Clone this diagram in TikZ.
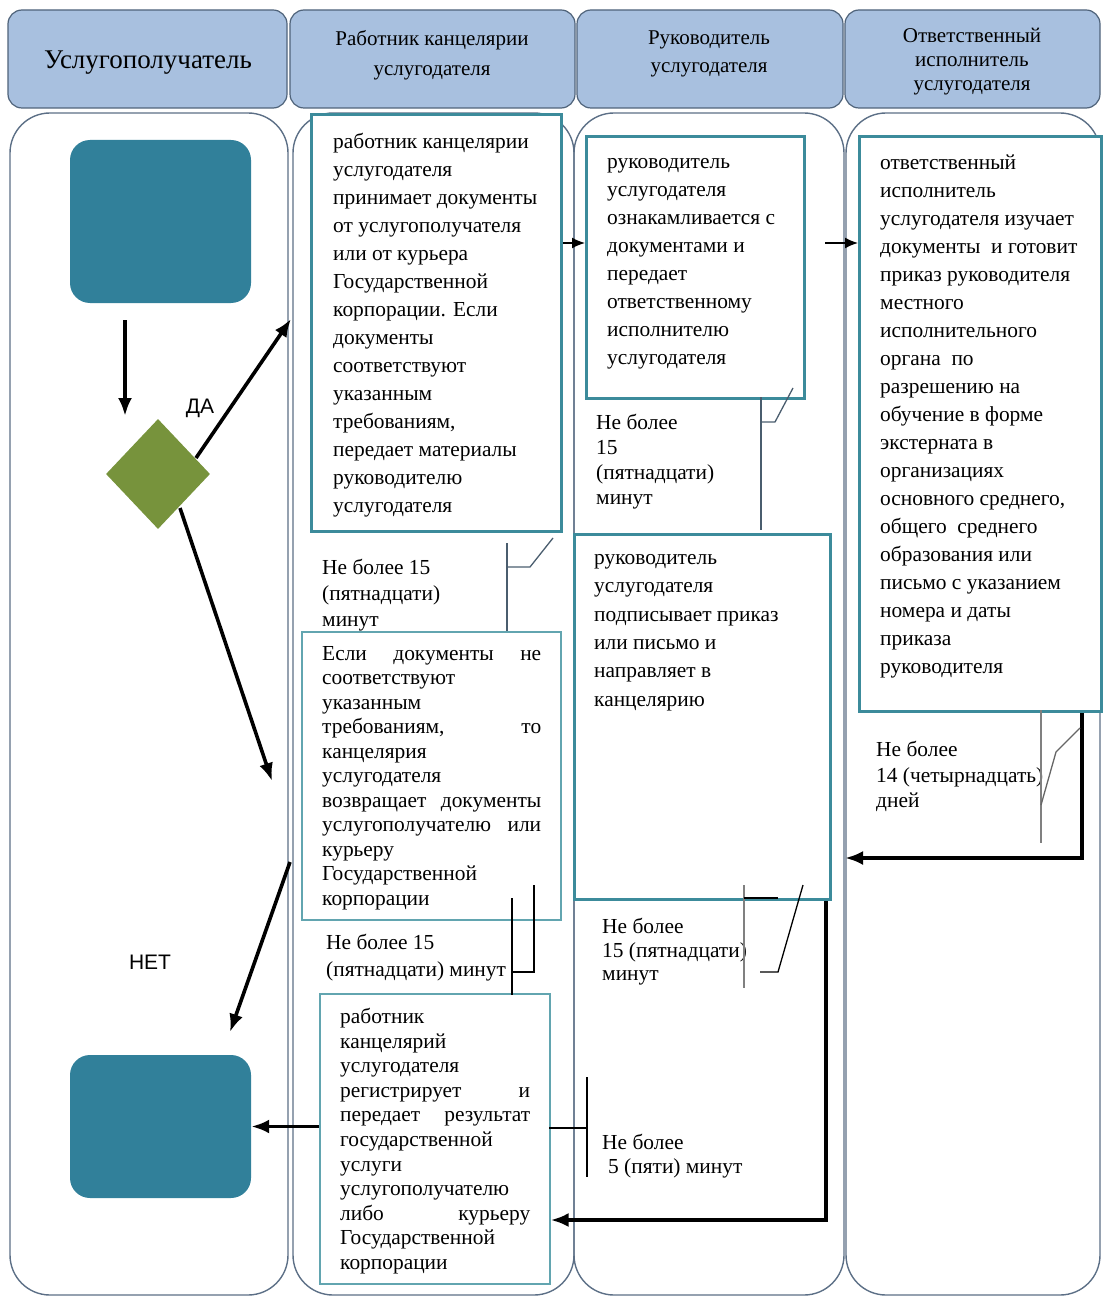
\documentclass[tikz,border=0pt]{standalone}
\usepackage{fontspec}
\setmainfont{Liberation Serif}
\newfontfamily\labelsans{Liberation Sans}
\usetikzlibrary{arrows.meta,shapes.geometric}

\definecolor{hdrfill}{HTML}{A8C0DF}
\definecolor{hdrdraw}{HTML}{4F637A}
\definecolor{lanedraw}{HTML}{5C6F86}
\definecolor{tealdraw}{HTML}{3C8B9B}
\definecolor{tealthin}{HTML}{62A5B0}
\definecolor{tealfill}{HTML}{31809A}
\definecolor{olivefill}{HTML}{77933C}
\definecolor{noteline}{HTML}{4A5D6E}

\begin{document}
\begin{tikzpicture}[x=1pt,y=-1pt,
  hdr/.style={draw=hdrdraw, line width=1.2pt, fill=hdrfill, rounded corners=14pt, inner sep=0pt},
  hdrtext/.style={inner sep=0pt, align=center, anchor=center},
  lane/.style={draw=lanedraw, line width=1.4pt, rounded corners=40pt},
  boxthick/.style={draw=tealdraw, line width=3pt, fill=white, inner sep=0pt, anchor=north west},
  boxthin/.style={draw=tealthin, line width=1.6pt, fill=white, inner sep=0pt, anchor=north west},
  term/.style={fill=tealfill, rounded corners=20pt, inner sep=0pt},
  txt/.style={anchor=north west, inner sep=0pt, align=left,
    font=\fontsize{21.4}{#1}\selectfont, execute at begin node=\strut},
  txt/.default=28,
  bigarrow/.style={line width=3.6pt, -{Latex[length=18pt,width=14pt]}},
  smallarrow/.style={line width=1.6pt, -{Latex[length=13pt,width=11pt]}},
  note/.style={draw=noteline, line width=1.3pt},
  notegray/.style={draw=gray, line width=1.3pt},
  notedark/.style={draw=black, line width=1.3pt}
]
\useasboundingbox (0,0) rectangle (1106,1297);

% swimlane bodies
\draw[lane] (10,113) rectangle (288,1295);
\draw[lane] (293,113) rectangle (574,1295);
\draw[lane] (574,113) rectangle (844,1295);
\draw[lane] (846,113) rectangle (1100,1295);

% swimlane headers
\node[hdr, minimum width=279pt, minimum height=98pt] (h1) at (147.5,59) {};
\node[hdr, minimum width=285pt, minimum height=98pt] (h2) at (432.5,59) {};
\node[hdr, minimum width=266pt, minimum height=98pt] (h3) at (710,59) {};
\node[hdr, minimum width=255pt, minimum height=98pt] (h4) at (972.5,59) {};
\node[hdrtext, font=\fontsize{27}{30}\selectfont] (h1t) at (148,63) {Услугополучатель};
\node[hdrtext, font=\fontsize{21}{30}\selectfont] (h2t) at (432,55) {Работник канцелярии\\услугодателя};
\node[hdrtext, font=\fontsize{21}{28}\selectfont] (h3t) at (709,54) {Руководитель\\услугодателя};
\node[hdrtext, font=\fontsize{21}{24}\selectfont] (h4t) at (972,62) {Ответственный\\исполнитель\\услугодателя};

% start / finish shapes and the decision
\node[term, minimum width=181pt, minimum height=163pt] (start) at (160.5,221.5) {};
\node[term, minimum width=181pt, minimum height=143pt] (finish) at (160.5,1126.5) {};
\node[diamond, fill=olivefill, inner sep=0pt, minimum width=104pt, minimum height=110pt]
  (dec) at (158,474) {};

% process boxes
\node[boxthick, minimum width=250pt, minimum height=417pt] (b1) at (310,113) {};
\node[boxthick, minimum width=218pt, minimum height=262pt] (b2) at (585,135) {};
\node[boxthick, minimum width=242pt, minimum height=575pt] (b3) at (858,135) {};
\node[boxthin,  minimum width=259pt, minimum height=288pt] (b4) at (301,631) {};
\node[boxthick, minimum width=256pt, minimum height=365pt] (b5) at (573,533) {};
\node[boxthin,  minimum width=230pt, minimum height=290pt] (b6) at (319,993) {};

% box texts
\node[txt] (t1) at (333,133) {работник канцелярии\\услугодателя\\принимает документы\\от услугополучателя\\или от курьера\\Государственной\\корпорации. Если\\документы\\соответствуют\\указанным\\требованиям,\\передает материалы\\руководителю\\услугодателя};
\node[txt] (t2) at (607,158) {руководитель\\услугодателя\\ознакамливается с\\документами и\\передает\\ответственному\\исполнителю\\услугодателя};
\node[txt] (t3) at (880,155) {ответственный\\исполнитель\\услугодателя изучает\\документы\ \ и готовит\\приказ руководителя\\местного\\исполнительного\\органа\ \ по\\разрешению на\\обучение в форме\\экстерната в\\организациях\\основного среднего,\\общего\ \ среднего\\образования или\\письмо с указанием\\номера и даты\\приказа\\руководителя};
\node[txt=28.4] (t5) at (594,554) {руководитель\\услугодателя\\подписывает приказ\\или письмо и\\направляет в\\канцелярию};
\node[txt=24.5] (t4) at (322,646) {\makebox[219pt][s]{Если документы не}\\соответствуют\\указанным\\\makebox[219pt][s]{требованиям, то}\\канцелярия\\услугодателя\\\makebox[219pt][s]{возвращает документы}\\\makebox[219pt][s]{услугополучателю или}\\курьеру\\Государственной\\корпорации};
\node[txt=24.6] (t6) at (340,1008) {работник\\канцелярий\\услугодателя\\\makebox[190pt][s]{регистрирует и}\\\makebox[190pt][s]{передает результат}\\государственной\\услуги\\услугополучателю\\\makebox[190pt][s]{либо курьеру}\\Государственной\\корпорации};

% time notes
\node[txt=26] (n1) at (322,559) {Не более 15\\(пятнадцати)\\минут};
\node[txt=25] (n2) at (596,414) {Не более\\15\\(пятнадцати)\\минут};
\node[txt=25.5] (n3) at (876,741) {Не более\\14 (четырнадцать)\\дней};
\node[txt=23.5] (n4) at (602,918) {Не более\\15 (пятнадцати)\\минут};
\node[txt=27] (n5) at (326,934) {Не более 15\\(пятнадцати) минут};
\node[txt=24] (n6) at (602,1134) {Не более\\\hspace*{6pt}5 (пяти) минут};

% branch labels
\node[font=\labelsans\fontsize{21}{24}\selectfont, inner sep=0pt] (yes) at (200,408) {ДА};
\node[font=\labelsans\fontsize{21}{24}\selectfont, inner sep=0pt] (no) at (150,962) {НЕТ};

% helper points for connector ends
\coordinate (c1a) at (125,320);
\coordinate (c1b) at (125,416);
\coordinate (cya) at (196,458);
\coordinate (cyb) at (291,319);
\coordinate (cna) at (180,508);
\coordinate (cnb) at (272,781);
\coordinate (cra) at (290,862);
\coordinate (crb) at (230,1032);
\coordinate (row1) at (0,243);
\coordinate (r2s) at (825,243);
\coordinate (c35) at (1082,858);
\coordinate (c35e) at (845,858);
\coordinate (c56) at (826,1220);

% flow connectors
\draw[bigarrow] (c1a) -- (c1b);
\draw[bigarrow] (cya) -- (cyb);
\draw[bigarrow] (cna) -- (cnb);
\draw[bigarrow] (cra) -- (crb);
\draw[smallarrow] (b1.east |- row1) -- (b2.west |- row1);
\draw[smallarrow] (r2s) -- (b3.west |- row1);
\draw[bigarrow] (b3.south -| c35) -- (c35) -- (c35e);
\draw[bigarrow] (b5.south -| c56) -- (c56) -- (b6.east |- c56);
\draw[bigarrow] (b6.west |- finish) -- (finish.east);

% callout leaders for the time notes
\draw[note] (507,543) -- (507,631);
\draw[note] (507,567) -- (530,567) -- (553,538);
\draw[note] (761,397) -- (761,530);
\draw[note] (761,422) -- (775,422) -- (793,388);
\draw[notegray] (1041,710) -- (1041,843);
\draw[notegray, draw=gray!80!black] (1041,805) -- (1056,752) -- (1080,728);
\draw[notegray] (744,885) -- (744,988);
\draw[notedark] (744,898) -- (778,898);
\draw[notedark] (803,885) -- (778,972) -- (760,972);
\draw[notedark] (512,898) -- (512,995);
\draw[notedark] (534,885) -- (534,972) -- (512,972);
\draw[notedark] (587,1077) -- (587,1177);
\draw[notedark] (549,1128) -- (587,1128);
\end{tikzpicture}
\end{document}
